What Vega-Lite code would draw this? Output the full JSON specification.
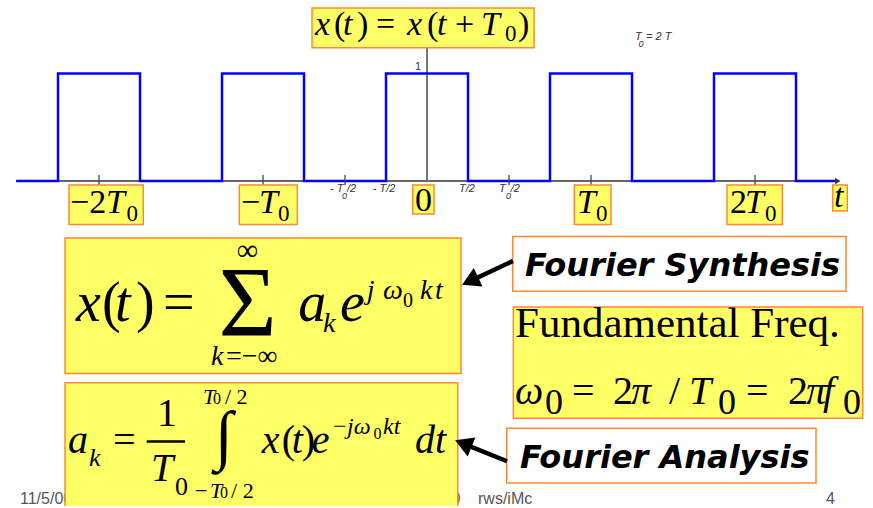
{
  "$schema": "https://vega.github.io/schema/vega-lite/v6.json",
  "width": 873,
  "height": 508,
  "autosize": {"type": "fit", "contains": "padding"},
  "padding": 0,
  "background": "white",
  "config": {"view": {"stroke": null}},
  "datasets": {
    "signal": [
      {"t": -10.02, "v": 0}, {"t": -9, "v": 1}, {"t": -7, "v": 0}, {"t": -5, "v": 1},
      {"t": -3, "v": 0}, {"t": -1, "v": 1}, {"t": 1, "v": 0}, {"t": 3, "v": 1},
      {"t": 5, "v": 0}, {"t": 7, "v": 1}, {"t": 9, "v": 0}, {"t": 9.95, "v": 0}
    ],
    "rules": [
      {"part": "axis", "t": -10.02, "t2": 10.0, "v": 0, "v2": 0},
      {"part": "axis", "t": 0, "t2": 0, "v": 0, "v2": 1.238},
      {"part": "tick", "t": -8, "t2": -8, "v": 0.055, "v2": -0.04},
      {"part": "tick", "t": -4, "t2": -4, "v": 0.055, "v2": -0.04},
      {"part": "tick", "t": -2, "t2": -2, "v": 0.055, "v2": -0.04},
      {"part": "tick", "t": 2, "t2": 2, "v": 0.055, "v2": -0.04},
      {"part": "tick", "t": 4, "t2": 4, "v": 0.055, "v2": -0.04},
      {"part": "tick", "t": 8, "t2": 8, "v": 0.055, "v2": -0.04},
      {"part": "frac", "t": -6.837, "t2": -5.902, "v": -2.422, "v2": -2.422},
      {"part": "arrow", "t": 2.098, "t2": 1.051, "v": -0.7435, "v2": -0.9306},
      {"part": "arrow", "t": 1.951, "t2": 0.885, "v": -2.605, "v2": -2.442}
    ],
    "heads": [
      {"name": "synthesis", "t": 1.051, "v": -0.9306},
      {"name": "analysis", "t": 0.885, "v": -2.442},
      {"name": "axisEnd", "t": 10.02, "v": 0}
    ],
    "boxes": [
      {"kind": "formula", "t": -2.805, "t2": 2.610, "v": 1.608, "v2": 1.238},
      {"kind": "formula", "t": -8.732, "t2": -6.920, "v": -0.037, "v2": -0.404},
      {"kind": "formula", "t": -4.578, "t2": -3.163, "v": -0.037, "v2": -0.404},
      {"kind": "formula", "t": -0.349, "t2": 0.171, "v": -0.037, "v2": -0.308},
      {"kind": "formula", "t": 3.593, "t2": 4.488, "v": -0.037, "v2": -0.404},
      {"kind": "formula", "t": 7.317, "t2": 8.666, "v": -0.037, "v2": -0.404},
      {"kind": "formula", "t": 9.895, "t2": 10.251, "v": -0.037, "v2": -0.278},
      {"kind": "formula", "t": -8.829, "t2": 0.829, "v": -0.531, "v2": -1.790},
      {"kind": "formula", "t": 2.105, "t2": 10.627, "v": -1.172, "v2": -2.206},
      {"kind": "formula", "t": -8.829, "t2": 0.749, "v": -1.876, "v2": -3.08},
      {"kind": "caption", "t": 2.090, "t2": 10.220, "v": -0.515, "v2": -1.024},
      {"kind": "caption", "t": 1.944, "t2": 9.488, "v": -2.299, "v2": -2.808}
    ],
    "footer": [
      {"label": "11/5/00", "t": -9.927, "v": -3.007},
      {"label": "0", "t": 0.598, "v": -3.007},
      {"label": "rws/iMc", "t": 1.244, "v": -3.007},
      {"label": "4", "t": 9.732, "v": -3.007}
    ],
    "txt": [
      {"role": "tvar", "label": "x", "t": -2.732, "v": 1.358},
      {"role": "tsym", "label": "(", "t": -2.268, "v": 1.358},
      {"role": "tvar", "label": "t", "t": -2.049, "v": 1.358},
      {"role": "tsym", "label": ")", "t": -1.707, "v": 1.358},
      {"role": "tsym", "label": "=", "t": -1.244, "v": 1.358},
      {"role": "tvar", "label": "x", "t": -0.488, "v": 1.358},
      {"role": "tsym", "label": "(", "t": 0.0, "v": 1.358},
      {"role": "tvar", "label": "t", "t": 0.244, "v": 1.358},
      {"role": "tsym", "label": "+", "t": 0.683, "v": 1.358},
      {"role": "tvar", "label": "T", "t": 1.317, "v": 1.358},
      {"role": "tsub", "label": "0", "t": 1.902, "v": 1.303},
      {"role": "tsym", "label": ")", "t": 2.220, "v": 1.358},

      {"role": "tsym", "label": "−2", "t": -8.707, "v": -0.299},
      {"role": "tvar", "label": "T", "t": -7.829, "v": -0.299},
      {"role": "tsub", "label": "0", "t": -7.329, "v": -0.373},
      {"role": "tsym", "label": "−", "t": -4.537, "v": -0.299},
      {"role": "tvar", "label": "T", "t": -4.098, "v": -0.299},
      {"role": "tsub", "label": "0", "t": -3.634, "v": -0.373},
      {"role": "tsym", "label": "0", "t": -0.295, "v": -0.281},
      {"role": "tvar", "label": "T", "t": 3.659, "v": -0.299},
      {"role": "tsub", "label": "0", "t": 4.122, "v": -0.373},
      {"role": "tsym", "label": "2", "t": 7.390, "v": -0.299},
      {"role": "tvar", "label": "T", "t": 7.756, "v": -0.299},
      {"role": "tsub", "label": "0", "t": 8.244, "v": -0.373},
      {"role": "tvar", "label": "t", "t": 9.927, "v": -0.2435},

      {"role": "small", "label": "- T", "t": -2.366, "v": -0.105},
      {"role": "smallsub", "label": "0", "t": -2.073, "v": -0.165},
      {"role": "small", "label": "/2", "t": -1.951, "v": -0.105},
      {"role": "small", "label": "- T/2", "t": -1.324, "v": -0.105},
      {"role": "small", "label": "T/2", "t": 0.780, "v": -0.105},
      {"role": "small", "label": "T", "t": 1.756, "v": -0.105},
      {"role": "smallsub", "label": "0", "t": 1.927, "v": -0.165},
      {"role": "small", "label": "/2", "t": 2.041, "v": -0.105},
      {"role": "small", "label": "T", "t": 5.073, "v": 1.312},
      {"role": "smallsub", "label": "0", "t": 5.159, "v": 1.247},
      {"role": "small", "label": "= 2 T", "t": 5.341, "v": 1.312},
      {"role": "one", "label": "1", "t": -0.293, "v": 1.034},

      {"role": "svar", "label": "x", "t": -8.561, "v": -1.299},
      {"role": "ssym", "label": "(", "t": -7.927, "v": -1.299},
      {"role": "svar", "label": "t", "t": -7.610, "v": -1.299},
      {"role": "ssym", "label": ")", "t": -7.098, "v": -1.299},
      {"role": "ssym", "label": "=", "t": -6.439, "v": -1.299},
      {"role": "sigma", "label": "Σ", "t": -4.378, "v": -1.435},
      {"role": "inf", "label": "∞", "t": -4.378, "v": -0.73},
      {"role": "slim", "label": "k", "t": -5.268, "v": -1.715},
      {"role": "slimsym", "label": "=−∞", "t": -4.902, "v": -1.715},
      {"role": "svar", "label": "a", "t": -3.138, "v": -1.299},
      {"role": "slim", "label": "k", "t": -2.537, "v": -1.401},
      {"role": "svar", "label": "e", "t": -2.122, "v": -1.299},
      {"role": "slim", "label": "j", "t": -1.471, "v": -1.095},
      {"role": "slim", "label": "ω", "t": -1.073, "v": -1.095},
      {"role": "ssupsub", "label": "0", "t": -0.585, "v": -1.169},
      {"role": "slim", "label": "k", "t": -0.171, "v": -1.095},
      {"role": "slim", "label": "t", "t": 0.195, "v": -1.095},

      {"role": "avar", "label": "a", "t": -8.756, "v": -2.531},
      {"role": "asub", "label": "k", "t": -8.244, "v": -2.651},
      {"role": "asym", "label": "=", "t": -7.658, "v": -2.531},
      {"role": "asym", "label": "1", "t": -6.585, "v": -2.281},
      {"role": "avar", "label": "T", "t": -6.732, "v": -2.793},
      {"role": "asubsym", "label": "0", "t": -6.146, "v": -2.917},
      {"role": "integral", "label": "∫", "t": -4.951, "v": -2.563},
      {"role": "alim", "label": "T", "t": -5.463, "v": -2.077},
      {"role": "alimsub", "label": "0", "t": -5.220, "v": -2.077},
      {"role": "alimsym", "label": "/ 2", "t": -4.927, "v": -2.077},
      {"role": "alimsym", "label": "−", "t": -5.659, "v": -2.947},
      {"role": "alim", "label": "T", "t": -5.293, "v": -2.947},
      {"role": "alimsub", "label": "0", "t": -5.049, "v": -2.947},
      {"role": "alimsym", "label": "/ 2", "t": -4.780, "v": -2.947},
      {"role": "avar", "label": "x", "t": -4.032, "v": -2.531},
      {"role": "asym", "label": "(", "t": -3.544, "v": -2.531},
      {"role": "avar", "label": "t", "t": -3.300, "v": -2.531},
      {"role": "asym", "label": ")", "t": -3.056, "v": -2.531},
      {"role": "avar", "label": "e", "t": -2.812, "v": -2.531},
      {"role": "asupsym", "label": "−", "t": -2.293, "v": -2.355},
      {"role": "asup", "label": "jω", "t": -1.951, "v": -2.355},
      {"role": "asupsub", "label": "0", "t": -1.307, "v": -2.401},
      {"role": "asup", "label": "kt", "t": -1.073, "v": -2.355},
      {"role": "avar", "label": "dt", "t": -0.293, "v": -2.531},

      {"role": "ftext", "label": "Fundamental Freq.", "t": 2.146, "v": -1.447},
      {"role": "fvar", "label": "ω", "t": 2.146, "v": -2.077},
      {"role": "fsub", "label": "0", "t": 2.878, "v": -2.169},
      {"role": "fsym", "label": "=", "t": 3.537, "v": -2.077},
      {"role": "fsym", "label": "2", "t": 4.537, "v": -2.077},
      {"role": "fvar", "label": "π", "t": 4.976, "v": -2.077},
      {"role": "fsym", "label": "/", "t": 5.902, "v": -2.077},
      {"role": "fvar", "label": "T", "t": 6.390, "v": -2.077},
      {"role": "fsub", "label": "0", "t": 7.098, "v": -2.169},
      {"role": "fsym", "label": "=", "t": 7.780, "v": -2.077},
      {"role": "fsym", "label": "2", "t": 8.805, "v": -2.077},
      {"role": "fvar", "label": "π", "t": 9.244, "v": -2.077},
      {"role": "fvar", "label": "f", "t": 9.659, "v": -2.077},
      {"role": "fsub", "label": "0", "t": 10.146, "v": -2.169},

      {"role": "cap", "label": "Fourier Synthesis", "t": 2.390, "v": -0.880},
      {"role": "cap", "label": "Fourier Analysis", "t": 2.268, "v": -2.669}
    ]
  },
  "encoding": {
    "x": {"field": "t", "type": "quantitative", "scale": {"domain": [-10.415, 10.878], "nice": false, "zero": false}, "axis": null},
    "y": {"field": "v", "type": "quantitative", "scale": {"domain": [-3.0213, 1.6824], "nice": false, "zero": false}, "axis": null}
  },
  "layer": [
    {"data": {"name": "footer"}, "mark": {"type": "text", "font": "Liberation Sans", "fontSize": 16, "color": "#555555", "align": "left", "baseline": "alphabetic"}, "encoding": {"text": {"field": "label"}}},
    {"data": {"name": "rules"}, "transform": [{"filter": "datum.part === 'axis'"}], "mark": {"type": "rule", "color": "#666666", "strokeWidth": 1.8}, "encoding": {"x2": {"field": "t2"}, "y2": {"field": "v2"}}},
    {"data": {"name": "signal"}, "mark": {"type": "line", "interpolate": "step-after", "color": "#0000ff", "strokeWidth": 2.5}, "encoding": {}},
    {"data": {"name": "rules"}, "transform": [{"filter": "datum.part === 'tick'"}], "mark": {"type": "rule", "color": "#444444", "strokeWidth": 1.3}, "encoding": {"x2": {"field": "t2"}, "y2": {"field": "v2"}}},
    {"data": {"name": "heads"}, "transform": [{"filter": "datum.name === 'axisEnd'"}], "mark": {"type": "point", "shape": "triangle-right", "size": 40, "filled": true, "color": "#333333", "opacity": 1}, "encoding": {}},
    {"data": {"name": "boxes"}, "transform": [{"filter": "datum.kind === 'formula'"}], "mark": {"type": "rect", "fill": "#ffff66", "stroke": "#ff8833", "strokeWidth": 1.5, "clip": true}, "encoding": {"x2": {"field": "t2"}, "y2": {"field": "v2"}}},
    {"data": {"name": "boxes"}, "transform": [{"filter": "datum.kind === 'caption'"}], "mark": {"type": "rect", "fill": "#ffffff", "stroke": "#ff8833", "strokeWidth": 1.5}, "encoding": {"x2": {"field": "t2"}, "y2": {"field": "v2"}}},
    {"data": {"name": "rules"}, "transform": [{"filter": "datum.part === 'frac'"}], "mark": {"type": "rule", "color": "#000000", "strokeWidth": 2.5}, "encoding": {"x2": {"field": "t2"}, "y2": {"field": "v2"}}},
    {"data": {"name": "rules"}, "transform": [{"filter": "datum.part === 'arrow'"}], "mark": {"type": "rule", "color": "#000000", "strokeWidth": 4.5}, "encoding": {"x2": {"field": "t2"}, "y2": {"field": "v2"}}},
    {"data": {"name": "heads"}, "transform": [{"filter": "datum.name === 'synthesis'"}], "mark": {"type": "point", "shape": "triangle-up", "size": 420, "angle": 244.8, "filled": true, "color": "#000000", "opacity": 1}, "encoding": {}},
    {"data": {"name": "heads"}, "transform": [{"filter": "datum.name === 'analysis'"}], "mark": {"type": "point", "shape": "triangle-up", "size": 420, "angle": 292, "filled": true, "color": "#000000", "opacity": 1}, "encoding": {}},

    {"data": {"name": "txt"}, "transform": [{"filter": "datum.role === 'tvar'"}], "mark": {"type": "text", "font": "Liberation Serif", "fontStyle": "italic", "fontSize": 34, "align": "left", "baseline": "alphabetic", "color": "#000000"}, "encoding": {"text": {"field": "label"}}},
    {"data": {"name": "txt"}, "transform": [{"filter": "datum.role === 'tsym'"}], "mark": {"type": "text", "font": "Liberation Serif", "fontSize": 34, "align": "left", "baseline": "alphabetic", "color": "#000000"}, "encoding": {"text": {"field": "label"}}},
    {"data": {"name": "txt"}, "transform": [{"filter": "datum.role === 'tsub'"}], "mark": {"type": "text", "font": "Liberation Serif", "fontSize": 23, "align": "left", "baseline": "alphabetic", "color": "#000000"}, "encoding": {"text": {"field": "label"}}},
    {"data": {"name": "txt"}, "transform": [{"filter": "datum.role === 'small'"}], "mark": {"type": "text", "font": "Liberation Sans", "fontStyle": "italic", "fontSize": 11, "align": "left", "baseline": "alphabetic", "color": "#333333"}, "encoding": {"text": {"field": "label"}}},
    {"data": {"name": "txt"}, "transform": [{"filter": "datum.role === 'smallsub'"}], "mark": {"type": "text", "font": "Liberation Sans", "fontStyle": "italic", "fontSize": 9, "align": "left", "baseline": "alphabetic", "color": "#333333"}, "encoding": {"text": {"field": "label"}}},
    {"data": {"name": "txt"}, "transform": [{"filter": "datum.role === 'one'"}], "mark": {"type": "text", "font": "Liberation Sans", "fontSize": 11, "align": "left", "baseline": "alphabetic", "color": "#333333"}, "encoding": {"text": {"field": "label"}}},
    {"data": {"name": "txt"}, "transform": [{"filter": "datum.role === 'svar'"}], "mark": {"type": "text", "font": "Liberation Serif", "fontStyle": "italic", "fontSize": 56, "align": "left", "baseline": "alphabetic", "color": "#000000"}, "encoding": {"text": {"field": "label"}}},
    {"data": {"name": "txt"}, "transform": [{"filter": "datum.role === 'ssym'"}], "mark": {"type": "text", "font": "Liberation Serif", "fontSize": 56, "align": "left", "baseline": "alphabetic", "color": "#000000"}, "encoding": {"text": {"field": "label"}}},
    {"data": {"name": "txt"}, "transform": [{"filter": "datum.role === 'sigma'"}], "mark": {"type": "text", "font": "Liberation Serif", "fontSize": 100, "align": "center", "baseline": "alphabetic", "color": "#000000"}, "encoding": {"text": {"field": "label"}}},
    {"data": {"name": "txt"}, "transform": [{"filter": "datum.role === 'inf'"}], "mark": {"type": "text", "font": "Liberation Serif", "fontSize": 30, "align": "center", "baseline": "alphabetic", "color": "#000000"}, "encoding": {"text": {"field": "label"}}},
    {"data": {"name": "txt"}, "transform": [{"filter": "datum.role === 'slim'"}], "mark": {"type": "text", "font": "Liberation Serif", "fontStyle": "italic", "fontSize": 28, "align": "left", "baseline": "alphabetic", "color": "#000000"}, "encoding": {"text": {"field": "label"}}},
    {"data": {"name": "txt"}, "transform": [{"filter": "datum.role === 'slimsym'"}], "mark": {"type": "text", "font": "Liberation Serif", "fontSize": 28, "align": "left", "baseline": "alphabetic", "color": "#000000"}, "encoding": {"text": {"field": "label"}}},
    {"data": {"name": "txt"}, "transform": [{"filter": "datum.role === 'ssupsub'"}], "mark": {"type": "text", "font": "Liberation Serif", "fontSize": 20, "align": "left", "baseline": "alphabetic", "color": "#000000"}, "encoding": {"text": {"field": "label"}}},
    {"data": {"name": "txt"}, "transform": [{"filter": "datum.role === 'avar'"}], "mark": {"type": "text", "font": "Liberation Serif", "fontStyle": "italic", "fontSize": 40, "align": "left", "baseline": "alphabetic", "color": "#000000"}, "encoding": {"text": {"field": "label"}}},
    {"data": {"name": "txt"}, "transform": [{"filter": "datum.role === 'asym'"}], "mark": {"type": "text", "font": "Liberation Serif", "fontSize": 40, "align": "left", "baseline": "alphabetic", "color": "#000000"}, "encoding": {"text": {"field": "label"}}},
    {"data": {"name": "txt"}, "transform": [{"filter": "datum.role === 'asub'"}], "mark": {"type": "text", "font": "Liberation Serif", "fontStyle": "italic", "fontSize": 26, "align": "left", "baseline": "alphabetic", "color": "#000000"}, "encoding": {"text": {"field": "label"}}},
    {"data": {"name": "txt"}, "transform": [{"filter": "datum.role === 'asubsym'"}], "mark": {"type": "text", "font": "Liberation Serif", "fontSize": 26, "align": "left", "baseline": "alphabetic", "color": "#000000"}, "encoding": {"text": {"field": "label"}}},
    {"data": {"name": "txt"}, "transform": [{"filter": "datum.role === 'integral'"}], "mark": {"type": "text", "font": "Liberation Serif", "fontSize": 66, "align": "center", "baseline": "alphabetic", "color": "#000000"}, "encoding": {"text": {"field": "label"}}},
    {"data": {"name": "txt"}, "transform": [{"filter": "datum.role === 'alim'"}], "mark": {"type": "text", "font": "Liberation Serif", "fontStyle": "italic", "fontSize": 22, "align": "left", "baseline": "alphabetic", "color": "#000000"}, "encoding": {"text": {"field": "label"}}},
    {"data": {"name": "txt"}, "transform": [{"filter": "datum.role === 'alimsym'"}], "mark": {"type": "text", "font": "Liberation Serif", "fontSize": 22, "align": "left", "baseline": "alphabetic", "color": "#000000"}, "encoding": {"text": {"field": "label"}}},
    {"data": {"name": "txt"}, "transform": [{"filter": "datum.role === 'alimsub'"}], "mark": {"type": "text", "font": "Liberation Serif", "fontSize": 16, "align": "left", "baseline": "alphabetic", "color": "#000000"}, "encoding": {"text": {"field": "label"}}},
    {"data": {"name": "txt"}, "transform": [{"filter": "datum.role === 'asup'"}], "mark": {"type": "text", "font": "Liberation Serif", "fontStyle": "italic", "fontSize": 24, "align": "left", "baseline": "alphabetic", "color": "#000000"}, "encoding": {"text": {"field": "label"}}},
    {"data": {"name": "txt"}, "transform": [{"filter": "datum.role === 'asupsym'"}], "mark": {"type": "text", "font": "Liberation Serif", "fontSize": 24, "align": "left", "baseline": "alphabetic", "color": "#000000"}, "encoding": {"text": {"field": "label"}}},
    {"data": {"name": "txt"}, "transform": [{"filter": "datum.role === 'asupsub'"}], "mark": {"type": "text", "font": "Liberation Serif", "fontSize": 16, "align": "left", "baseline": "alphabetic", "color": "#000000"}, "encoding": {"text": {"field": "label"}}},
    {"data": {"name": "txt"}, "transform": [{"filter": "datum.role === 'ftext'"}], "mark": {"type": "text", "font": "Liberation Serif", "fontSize": 43, "align": "left", "baseline": "alphabetic", "color": "#000000"}, "encoding": {"text": {"field": "label"}}},
    {"data": {"name": "txt"}, "transform": [{"filter": "datum.role === 'fvar'"}], "mark": {"type": "text", "font": "Liberation Serif", "fontStyle": "italic", "fontSize": 40, "align": "left", "baseline": "alphabetic", "color": "#000000"}, "encoding": {"text": {"field": "label"}}},
    {"data": {"name": "txt"}, "transform": [{"filter": "datum.role === 'fsym'"}], "mark": {"type": "text", "font": "Liberation Serif", "fontSize": 40, "align": "left", "baseline": "alphabetic", "color": "#000000"}, "encoding": {"text": {"field": "label"}}},
    {"data": {"name": "txt"}, "transform": [{"filter": "datum.role === 'fsub'"}], "mark": {"type": "text", "font": "Liberation Serif", "fontSize": 36, "align": "left", "baseline": "alphabetic", "color": "#000000"}, "encoding": {"text": {"field": "label"}}},
    {"data": {"name": "txt"}, "transform": [{"filter": "datum.role === 'cap'"}], "mark": {"type": "text", "font": "DejaVu Sans", "fontStyle": "italic", "fontWeight": "bold", "fontSize": 32, "align": "left", "baseline": "alphabetic", "color": "#000000"}, "encoding": {"text": {"field": "label"}}}
  ]
}
